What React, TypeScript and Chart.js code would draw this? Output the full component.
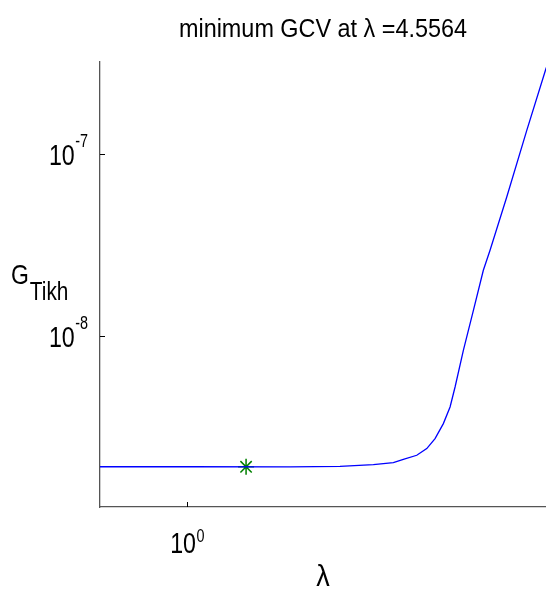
import React, { useEffect, useRef } from "react";
import { Chart, registerables } from "chart.js";

Chart.register(...registerables);

// ---- data ----
const lambdaValues = [0.6, 1.016, 1.824, 2.443, 2.969, 3.337, 3.538, 3.827, 4.057, 4.259, 4.471, 4.65, 4.788, 5.026, 5.33, 5.649, 5.875, 6.478, 7.283, 8.139, 8.35];
const gTikhValues = [1.931e-9, 1.931e-9, 1.928e-9, 1.943e-9, 1.985e-9, 2.036e-9, 2.122e-9, 2.232e-9, 2.428e-9, 2.754e-9, 3.327e-9, 4.102e-9, 5.279e-9, 8.38e-9, 1.388e-8, 2.298e-8, 2.956e-8, 5.788e-8, 1.341e-7, 2.893e-7, 3.365e-7];
const minLambda = [1.41];
const minG = [1.931e-9];

const xTickValues = [1];
const xTickExponents = ["0"];
const yTickValues = [1e-8, 1e-7];
const yTickExponents = ["-8", "-7"];

const xLimits = [0.6, 8.15];
const yLimits = [1.163e-9, 3.173e-7];

const titleText = "minimum GCV at λ =4.5564";
const xLabelText = "λ";
const yLabelMain = "G";
const yLabelSub = "Tikh";

const FONT = "'Liberation Sans', Arial, sans-serif";

function drawText(ctx: CanvasRenderingContext2D, text: string, x: number, y: number, size: number, sx: number, align: "left" | "right" | "center") {
  ctx.save();
  ctx.font = `${size}px ${FONT}`;
  ctx.textBaseline = "alphabetic";
  const w = ctx.measureText(text).width * sx;
  let left = x;
  if (align === "right") left = x - w;
  else if (align === "center") left = x - w / 2;
  ctx.translate(left, y);
  ctx.scale(sx, 1);
  ctx.textAlign = "left";
  ctx.fillText(text, 0, 0);
  ctx.restore();
  return w;
}

function textWidth(ctx: CanvasRenderingContext2D, text: string, size: number, sx: number) {
  ctx.save();
  ctx.font = `${size}px ${FONT}`;
  const w = ctx.measureText(text).width * sx;
  ctx.restore();
  return w;
}

const matlabPlugin = {
  id: "matlabDecor",
  afterDraw(chart: any) {
    const { ctx, chartArea, scales } = chart;
    const xs = scales.x;
    const ys = scales.y;
    ctx.save();
    ctx.fillStyle = "#000";
    ctx.strokeStyle = "#000";
    ctx.lineWidth = 1;

    // inward ticks
    ctx.beginPath();
    yTickValues.forEach((v) => {
      const py = Math.round(ys.getPixelForValue(v)) + 0.5;
      ctx.moveTo(chartArea.left, py);
      ctx.lineTo(chartArea.left + 5, py);
    });
    xTickValues.forEach((v) => {
      const px = Math.round(xs.getPixelForValue(v)) + 0.5;
      ctx.moveTo(px, chartArea.bottom);
      ctx.lineTo(px, chartArea.bottom - 5);
    });
    ctx.stroke();

    const base = 29;
    const sup = 18;
    const sx = 0.8;

    // y tick labels
    yTickValues.forEach((v, i) => {
      const py = ys.getPixelForValue(v);
      const supRight = chartArea.left - 12;
      const wSup = drawText(ctx, yTickExponents[i], supRight, py - 7, sup, sx, "right");
      drawText(ctx, "10", supRight - wSup - 0.5, py + 11, base, sx, "right");
    });

    // x tick labels
    xTickValues.forEach((v, i) => {
      const px = xs.getPixelForValue(v);
      const w10 = textWidth(ctx, "10", base, sx);
      const wSup = textWidth(ctx, xTickExponents[i], sup, sx);
      const left = px - (w10 + wSup + 0.5) / 2;
      drawText(ctx, "10", left, chartArea.bottom + 46, base, sx, "left");
      drawText(ctx, xTickExponents[i], left + w10 + 0.5, chartArea.bottom + 35, sup, sx, "left");
    });

    const cx = (chartArea.left + chartArea.right) / 2;
    // title
    drawText(ctx, titleText, cx, 37, 26, 0.9, "center");
    // x label
    drawText(ctx, xLabelText, cx, 586, 30, 0.9, "center");
    // y label
    const wG = drawText(ctx, yLabelMain, 11, 284, 28, 0.82, "left");
    drawText(ctx, yLabelSub, 11 + wG + 1, 300, 26, 0.8, "left");

    ctx.restore();
  },
};

export default function App() {
  const ref = useRef<HTMLCanvasElement | null>(null);

  useEffect(() => {
    if (!ref.current) return;
    const chart = new Chart(ref.current, {
      type: "line",
      data: {
        datasets: [
          {
            label: "GCV",
            data: lambdaValues.map((x, i) => ({ x, y: gTikhValues[i] })),
            borderColor: "#0000ff",
            borderWidth: 1.3,
            pointRadius: 0,
            tension: 0,
            fill: false,
          },
          {
            label: "minimum",
            data: minLambda.map((x, i) => ({ x, y: minG[i] })),
            showLine: false,
            pointStyle: "star",
            pointRadius: 8,
            borderColor: "#008000",
            backgroundColor: "#008000",
            borderWidth: 1.5,
          },
        ],
      },
      options: {
        responsive: false,
        animation: false,
        devicePixelRatio: 1,
        layout: { autoPadding: false, padding: { top: 62, left: 0, right: 0, bottom: 0 } },
        plugins: {
          legend: { display: false },
          title: { display: false },
          tooltip: { enabled: false },
        },
        scales: {
          x: {
            type: "logarithmic",
            min: xLimits[0],
            max: xLimits[1],
            ticks: { display: false },
            grid: { display: false },
            border: { display: true, color: "#555", width: 1.3 },
            afterFit: (s: any) => {
              s.height = 88;
            },
          },
          y: {
            type: "logarithmic",
            min: yLimits[0],
            max: yLimits[1],
            ticks: { display: false },
            grid: { display: false },
            border: { display: true, color: "#555", width: 1.3 },
            afterFit: (s: any) => {
              s.width = 100;
            },
          },
        },
      },
      plugins: [matlabPlugin],
    });
    return () => chart.destroy();
  }, []);

  return (
    <div style={{ position: "absolute", left: 0, top: 0, width: 546, height: 595, background: "#fff" }}>
      <canvas ref={ref} width={546} height={595} />
    </div>
  );
}
